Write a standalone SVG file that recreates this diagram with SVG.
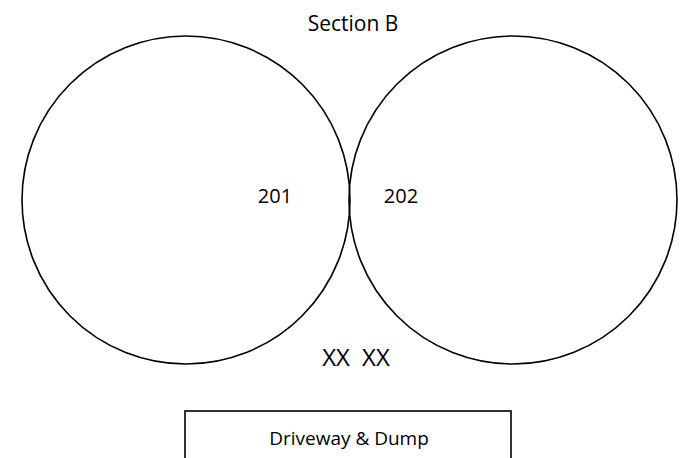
<svg xmlns="http://www.w3.org/2000/svg" width="688" height="458" viewBox="0 0 688 458">
<style>
.c{fill:none;stroke:#000;stroke-width:1.6}
.t{font-family:"Open Sans","Liberation Sans",sans-serif;fill:#000}
</style>
<rect width="688" height="458" fill="#fff"/>
<text class="t" x="353" y="31" font-size="21" text-anchor="middle">Section B</text>
<g id="n201">
<circle class="c" cx="186" cy="200" r="164"/>
<text class="t" x="275" y="203" font-size="20" text-anchor="middle">201</text>
</g>
<g id="n202">
<circle class="c" cx="513" cy="200" r="164"/>
<text class="t" x="401" y="203" font-size="20" text-anchor="middle">202</text>
</g>
<g id="connectors"></g>
<text class="t" x="356" y="366" font-size="24" text-anchor="middle" word-spacing="6">XX XX</text>
<g id="driveway">
<rect class="c" x="185" y="411" width="326" height="60" stroke-width="1.2"/>
<text class="t" x="349" y="445" font-size="19" text-anchor="middle">Driveway &amp; Dump</text>
</g>
</svg>
